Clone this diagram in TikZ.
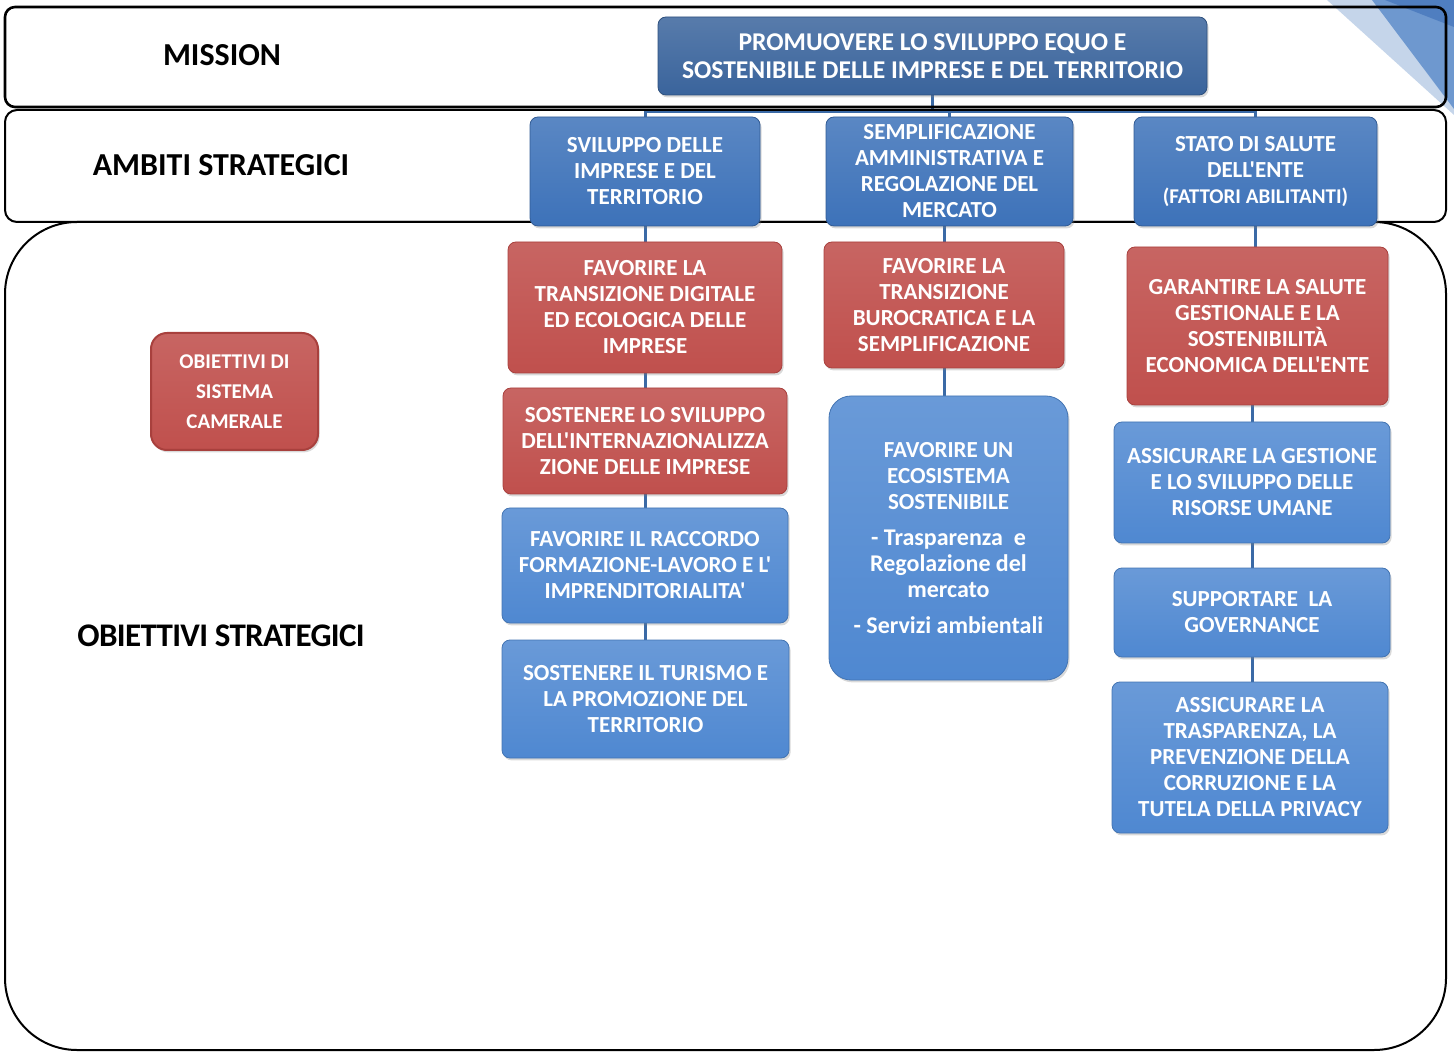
\documentclass[tikz,border=0pt]{standalone}
\usepackage{fontspec}
\setmainfont{Carlito}[Ligatures=TeXOff]
\usetikzlibrary{shadows, backgrounds}
\definecolor{redgoal}{HTML}{C0504D}
\definecolor{redgoaldark}{HTML}{A8403D}
\definecolor{bluegoal}{HTML}{4F88D1}
\definecolor{bluearea}{HTML}{3D72B9}
\definecolor{bluemission}{HTML}{3A649C}
\definecolor{bluelink}{HTML}{3B6AA6}
\tikzstyle{frame} = [draw=black, line width=1pt]
\tikzstyle{rowtitle} = [font=\fontsize{16}{19}\selectfont\bfseries, text=black]
\tikzstyle{box} = [rectangle, rounded corners=4pt, text=white, align=center, inner sep=2pt, font=\fontsize{11.5}{13}\selectfont\bfseries, drop shadow={shadow xshift=0.8pt, shadow yshift=-1.2pt, opacity=0.3}]
\tikzstyle{missionbox} = [box, top color=bluemission!85!white, bottom color=bluemission, draw=bluemission!80!black, font=\fontsize{12.8}{14}\selectfont\bfseries]
\tikzstyle{areabox} = [box, top color=bluearea!85!white, bottom color=bluearea, draw=bluearea!80!black]
\tikzstyle{redgoalbox} = [box, top color=redgoal!88!white, bottom color=redgoal, draw=redgoaldark]
\tikzstyle{bluegoalbox} = [box, top color=bluegoal!85!white, bottom color=bluegoal, draw=bluegoal!85!black]
\tikzstyle{link} = [draw=bluelink, line width=1.5pt]

\begin{document}
\begin{tikzpicture}[x=0.5pt, y=-0.5pt]
	\useasboundingbox (0,0) rectangle (1454,1052);

	% righe a sinistra
	\node (mis) [rowtitle] at (222,55) {MISSION};
	\node (amb) [rowtitle] at (221,165) {AMBITI STRATEGICI};
	\node (obs) [rowtitle, font=\fontsize{16.5}{19}\selectfont\bfseries\addfontfeatures{LetterSpace=-2}] at (221,636) {OBIETTIVI STRATEGICI};
	\node (sys) [redgoalbox, rounded corners=8pt, line width=1pt, minimum width=83.5pt, minimum height=58.5pt, font=\fontsize{10.5}{15}\selectfont\bfseries] at (234.5,391.5) {OBIETTIVI DI\\SISTEMA\\CAMERALE};

	% mission e ambiti
	\node (M) [missionbox, minimum width=274.5pt, minimum height=39pt] at (932.5,56) {PROMUOVERE LO SVILUPPO EQUO E\\SOSTENIBILE DELLE IMPRESE E DEL TERRITORIO};
	\node (A1) [areabox, minimum width=115pt, minimum height=54.5pt] at (645,171.5) {SVILUPPO DELLE\\IMPRESE E DEL\\TERRITORIO};
	\node (A2) [areabox, minimum width=123.5pt, minimum height=54.5pt] at (949.5,171.5) {SEMPLIFICAZIONE\\AMMINISTRATIVA E\\REGOLAZIONE DEL\\MERCATO};
	\node (A3) [areabox, minimum width=121.5pt, minimum height=54.5pt] at (1255.5,171.5) {STATO DI SALUTE\\DELL'ENTE\\{\fontsize{10.5}{12}\selectfont (FATTORI ABILITANTI)}};

	% colonna 1
	\node (R1) [redgoalbox, minimum width=137pt, minimum height=65.5pt] at (645,307.5) {FAVORIRE LA\\TRANSIZIONE DIGITALE\\ED ECOLOGICA DELLE\\IMPRESE};
	\node (R2) [redgoalbox, minimum width=142pt, minimum height=53pt] at (645,441) {SOSTENERE LO SVILUPPO\\DELL'INTERNAZIONALIZZA\\ZIONE DELLE IMPRESE};
	\node (B1) [bluegoalbox, minimum width=143pt, minimum height=57.5pt] at (645,565.5) {FAVORIRE IL RACCORDO\\FORMAZIONE-LAVORO E L'\\IMPRENDITORIALITA'};
	\node (B2) [bluegoalbox, minimum width=143.5pt, minimum height=59pt] at (645.5,699) {SOSTENERE IL TURISMO E\\LA PROMOZIONE DEL\\TERRITORIO};

	% colonna 2
	\node (R3) [redgoalbox, minimum width=120pt, minimum height=63pt] at (944,305) {FAVORIRE LA\\TRANSIZIONE\\BUROCRATICA E LA\\SEMPLIFICAZIONE};
	\node (B3) [bluegoalbox, rounded corners=11pt, minimum width=119.5pt, minimum height=142pt] at (948.5,538) {FAVORIRE UN\\ECOSISTEMA\\SOSTENIBILE\\[5pt]{\fontsize{12}{13.5}\selectfont - Trasparenza\ \ e}\\{\fontsize{12}{13.5}\selectfont Regolazione del}\\{\fontsize{12}{13.5}\selectfont mercato}\\[5pt]{\fontsize{12}{13.5}\selectfont - Servizi ambientali}};

	% colonna 3
	\node (R4) [redgoalbox, minimum width=130.5pt, minimum height=79pt] at (1257.5,326) {GARANTIRE LA SALUTE\\GESTIONALE E LA\\SOSTENIBILITÀ\\ECONOMICA DELL'ENTE};
	\node (B4) [bluegoalbox, minimum width=138pt, minimum height=60.5pt] at (1252,482.5) {ASSICURARE LA GESTIONE\\E LO SVILUPPO DELLE\\RISORSE UMANE};
	\node (B5) [bluegoalbox, minimum width=138pt, minimum height=44.5pt] at (1252,612.5) {SUPPORTARE\ \ LA\\GOVERNANCE};
	\node (B6) [bluegoalbox, minimum width=138pt, minimum height=75.5pt] at (1250,757.5) {ASSICURARE LA\\TRASPARENZA, LA\\PREVENZIONE DELLA\\CORRUZIONE E LA\\TUTELA DELLA PRIVACY};

	\coordinate (bar) at (0,112);

	\begin{scope}[on background layer]
		% angolo in alto a destra
		\fill [fill={rgb,255:red,197;green,213;blue,234}] (1327,0) -- (1454,0) -- (1454,115) -- cycle;
		\fill [fill={rgb,255:red,110;green,152;blue,207}] (1372,0) -- (1454,0) -- (1454,109) -- cycle;
		\fill [fill={rgb,255:red,79;green,126;blue,192}] (1385,0) -- (1454,0) -- (1454,27) -- cycle;

		\draw [link] (M.south) -- (M.south |- bar);
		\draw [link] (A1.north) -- (A1.north |- bar) -- (A3.north |- bar) -- (A3.north);
		\draw [link] (A2.north) -- (A2.north |- bar);
		\draw [link] (A1.south) -- (R1.north);
		\draw [link] (R1.south) -- (R2.north);
		\draw [link] (R2.south) -- (B1.north);
		\draw [link] (B1.south) -- (B1.south |- B2.north);
		\draw [link] (R3.north |- A2.south) -- (R3.north);
		\draw [link] (R3.south) -- (R3.south |- B3.north);
		\draw [link] (A3.south) -- (A3.south |- R4.north);
		\draw [link] (B4.north |- R4.south) -- (B4.north);
		\draw [link] (B4.south) -- (B5.north);
		\draw [link] (B5.south) -- (B5.south |- B6.north);

		% cornici
		\draw [frame, line width=1.3pt, rounded corners=5pt] (5,7) rectangle (1446,107);
		\draw [frame, rounded corners=6pt] (5,110) rectangle (1446,222);
		\draw [frame, rounded corners=36pt] (5,222) rectangle (1446,1050);
	\end{scope}
\end{tikzpicture}
\end{document}
